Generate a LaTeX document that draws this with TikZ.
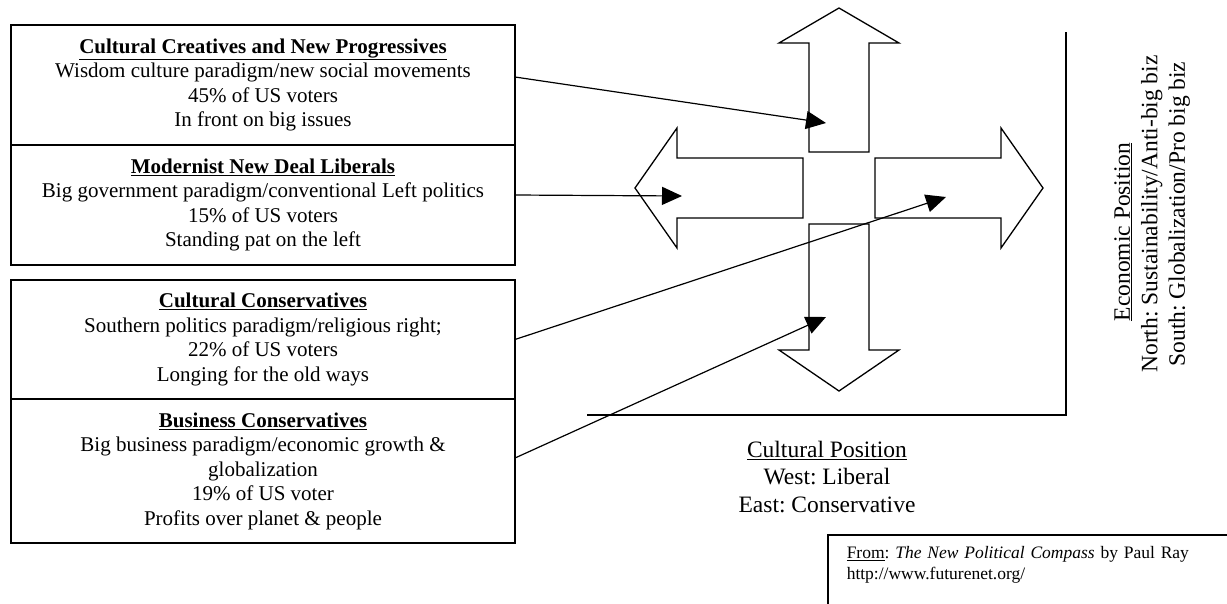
\documentclass[tikz,border=0pt]{standalone}
\usepackage{fontspec}
\setmainfont{Liberation Serif}
\frenchspacing
\usetikzlibrary{arrows.meta,positioning}

\begin{document}
\begin{tikzpicture}[x=1pt,y=-1pt,
  group/.style={draw,line width=1.5pt,outer sep=0pt,minimum width=504pt,align=center,
    font=\fontsize{21}{24.5}\selectfont},
  bigarrow/.style={draw,line width=1.3pt,line join=miter,fill=white},
  link/.style={line width=1.2pt,-{Triangle[length=20pt,width=18pt]}},
  axisline/.style={line width=2.5pt,line join=miter},
  axislabel/.style={align=center,font=\fontsize{23.5}{27.5}\selectfont}]
  \useasboundingbox (0,0) rectangle (1227,603);

  % the four groups of voters
  \node[group,minimum height=120pt] (creatives) at (263,85)
    {\underline{\textbf{Cultural Creatives and New Progressives}}\\
     Wisdom culture paradigm/new social movements\\45\% of US voters\\In front on big issues};
  \node[group,minimum height=120pt,below=0pt of creatives] (liberals)
    {\underline{\textbf{Modernist New Deal Liberals}}\\
     Big government paradigm/conventional Left politics\\15\% of US voters\\Standing pat on the left};
  \node[group,minimum height=119pt] (cultcons) at (263,339.5)
    {\underline{\textbf{Cultural Conservatives}}\\
     Southern politics paradigm/religious right;\\22\% of US voters\\Longing for the old ways};
  \node[group,minimum height=144pt,below=0pt of cultcons] (buscons)
    {\underline{\textbf{Business Conservatives}}\\
     Big business paradigm/economic growth \&\\globalization\\19\% of US voter\\Profits over planet \& people};

  % compass
  \draw[bigarrow] (809,152) -- (809,43) -- (779,43) -- (839,8) -- (899,43) -- (869,43) -- (869,152) -- cycle;
  \draw[bigarrow] (803,158) -- (677,158) -- (677,128) -- (635,188) -- (677,248) -- (677,218) -- (803,218) -- cycle;
  \draw[bigarrow] (875,158) -- (1001,158) -- (1001,128) -- (1043,188) -- (1001,248) -- (1001,218) -- (875,218) -- cycle;
  \draw[bigarrow] (809,224) -- (809,350) -- (779,350) -- (839,391) -- (899,350) -- (869,350) -- (869,224) -- cycle;

  \coordinate (ntip) at (826,123);
  \coordinate (wtip) at (682,196);
  \coordinate (etip) at (946,197);
  \coordinate (stip) at (826,317);

  \draw[link] ([yshift=8pt]creatives.east) -- (ntip);
  \draw[link] ([yshift=10pt]liberals.east) -- (wtip);
  \draw[link] (cultcons.east) -- (etip);
  \draw[link] ([yshift=13pt]buscons.east) -- (stip);

  % axes
  \draw[axisline] (1066,32) -- (1066,415) -- (587,415);
  \node[axislabel] (cultural) at (827,477)
    {\underline{Cultural Position}\\West: Liberal\\East: Conservative};
  \node[axislabel,rotate=90] (economic) at (1152,214)
    {\underline{Economic Position}\hspace*{36pt}\\North: Sustainability/Anti-big biz\\South: Globalization/Pro big biz};

  % source
  \begin{scope}
    \clip (0,0) rectangle (1227,603);
    \node[draw,line width=1.5pt,anchor=north west,inner xsep=19pt,inner ysep=12pt,
      text width=400pt,align=left,text depth=60pt,font=\fontsize{17.5}{21}\selectfont] (source) at (827,534)
      {\underline{From}: \textit{The New Political Compass} by Paul Ray\\http://www.futurenet.org/};
  \end{scope}
\end{tikzpicture}
\end{document}
